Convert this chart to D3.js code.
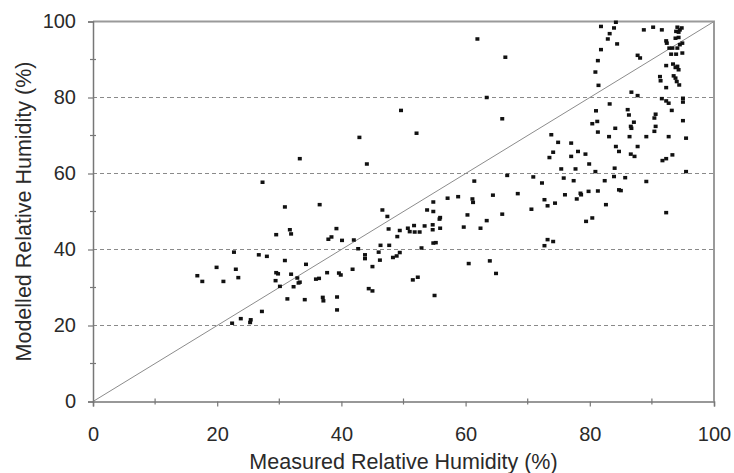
<!DOCTYPE html>
<html>
<head>
<meta charset="utf-8">
<script src="https://cdn.jsdelivr.net/npm/d3@7"></script>
<style>
  html, body { margin: 0; padding: 0; background: #fff; }
  svg { display: block; }
  text { font-family: Arial, "Liberation Sans", sans-serif; fill: #2a2a2a; }
</style>
</head>
<body>
<svg id="chart" width="734" height="473"></svg>
<script>
// Measured vs modelled relative humidity (%), one entry per observation
const measured = [
  27.3,30.9,29.5,31.7,31.9,22.7,26.7,28.0,30.9,19.9,23.0,16.8,17.6,21.0,23.4,29.5,29.8,31.9,29.4,30.1,
  32.3,32.9,33.1,31.3,27.2,23.8,22.4,25.4,25.3,
  36.5,46.6,47.4,39.2,37.9,38.4,40.1,42.0,47.6,49.4,49.0,50.7,46.3,47.7,42.7,46.0,43.8,43.8,46.2,48.3,48.9,
  49.4,34.3,45.0,41.8,37.7,39.6,39.9,35.9,36.4,33.3,44.4,45.0,34.1,37.0,37.1,39.3,39.3,
  61.4,66.7,68.4,64.4,57.1,58.8,61.1,61.2,54.8,53.8,54.8,55.9,60.3,65.9,63.4,55.9,55.8,54.7,54.7,53.4,
  51.7,51.0,51.8,52.6,59.7,62.4,54.8,55.2,52.9,60.5,63.9,64.9,51.5,52.3,55.0,
  61.9,66.4,63.4,65.9,52.1,49.6,42.9,44.1,33.3,
  81.8,83.9,84.2,83.2,82.9,84.4,81.8,81.3,80.9,81.4,83.2,81.0,80.4,81.2,81.3,84.1,83.1,73.8,74.9,77.0,
  74.1,78.1,77.0,79.3,73.5,79.9,75.4,77.7,80.9,84.2,84.7,84.0,
  70.9,75.8,77.4,72.3,76.0,78.5,78.6,79.8,81.3,82.4,83.9,84.7,77.9,72.7,73.2,74.4,70.6,82.6,79.4,80.4,
  73.2,74.1,72.7,
  85.7,89.1,85.0,92.3,
  88.7,90.2,91.6,94.1,94.5,94.3,93.9,94.8,94.3,93.8,92.3,92.4,94.9,94.5,94.1,93.3,92.8,94.9,93.1,93.9,
  87.7,88.1,92.3,93.4,93.8,94.3,94.1,93.5,93.8,91.3,91.4,94.0,94.4,92.3,86.7,87.7,91.6,92.3,92.7,95.0,
  95.0,93.2,86.1,86.3,90.6,90.4,87.1,86.6,86.7,95.0,90.6,90.4,86.4,89.1,92.7,95.5,87.7,86.6,87.2,93.3,
  92.3,91.7,95.5
];
const modelled = [
  57.7,51.2,43.9,45.2,44.1,39.3,38.6,38.2,37.1,35.3,34.8,33.1,31.6,31.6,32.6,33.9,33.6,33.5,31.8,30.3,
  30.2,32.5,31.2,27.0,23.7,21.8,20.6,21.5,20.8,
  51.8,50.4,48.7,45.5,42.7,43.3,42.4,42.5,45.4,45.0,43.4,45.6,41.1,41.1,40.2,39.3,38.6,37.6,37.2,37.9,38.3,
  39.2,36.1,35.5,34.8,33.9,33.8,33.3,32.2,32.4,31.4,29.7,29.1,26.8,27.4,26.5,27.5,24.1,
  58.0,59.5,54.7,54.3,53.5,53.9,53.3,52.4,52.5,50.4,50.0,48.4,49.1,49.3,47.6,45.6,48.0,46.5,45.2,46.2,
  46.3,44.7,44.6,44.6,45.9,45.6,41.7,41.8,40.4,36.3,37.0,33.7,32.0,32.7,27.9,
  95.4,90.6,80.0,74.4,70.6,76.6,69.5,62.5,63.9,
  98.7,98.3,99.8,96.8,95.4,94.1,92.6,89.7,86.7,83.2,78.3,76.5,73.1,73.7,70.9,71.9,69.7,70.2,68.2,68.0,
  65.6,65.8,64.5,65.1,64.2,62.5,61.2,61.2,60.5,67.1,65.8,61.4,
  59.1,58.8,58.1,57.5,54.4,54.8,54.4,55.3,55.4,58.1,59.2,55.7,53.3,53.1,51.5,52.2,50.6,51.8,47.4,48.3,
  42.6,42.1,41.0,
  58.9,57.9,55.5,49.7,
  97.8,98.5,97.8,98.5,97.8,97.2,97.4,98.3,95.8,95.6,94.9,94.3,94.3,93.9,93.0,93.0,93.0,91.7,91.4,91.4,
  91.1,90.4,88.4,88.8,87.9,87.3,88.2,85.7,85.1,85.5,84.4,84.2,83.3,82.6,81.4,80.5,79.7,79.1,78.5,79.8,
  78.8,76.6,76.8,75.4,75.6,74.6,73.5,72.4,71.9,73.9,72.4,71.1,69.7,69.7,69.7,69.3,67.1,65.1,64.5,64.9,
  63.9,63.4,60.5
];
const xTicks = [0, 20, 40, 60, 80, 100];
const yTicks = [0, 20, 40, 60, 80, 100];
const minorTicks = [10, 30, 50, 70, 90];
const gridValues = [20, 40, 60, 80];
const oneToOne = [0, 100];

const svg = d3.select("#chart");
const margin = { left: 93, right: 20, top: 21.5, bottom: 71.5 };
const W = 734, H = 473;
const x = d3.scaleLinear().domain([0, 100]).range([margin.left, W - margin.right]);
const y = d3.scaleLinear().domain([0, 100]).range([H - margin.bottom, margin.top]);
const TICK_FONT = "20px";
const TITLE_FONT = "21.5px";

// dashed horizontal gridlines
svg.append("g").selectAll("line").data(gridValues).join("line")
  .attr("x1", x(0)).attr("x2", x(100))
  .attr("y1", d => y(d)).attr("y2", d => y(d))
  .attr("stroke", "#8a8a8a").attr("stroke-width", 1)
  .attr("stroke-dasharray", "4,3");

// top and right frame
svg.append("path")
  .attr("d", `M${x(0)},${y(100)}H${x(100)}V${y(0)}`)
  .attr("fill", "none").attr("stroke", "#9a9a9a").attr("stroke-width", 2);

// 1:1 reference line
svg.append("line")
  .attr("x1", x(oneToOne[0])).attr("y1", y(oneToOne[0]))
  .attr("x2", x(oneToOne[1])).attr("y2", y(oneToOne[1]))
  .attr("stroke", "#8c8c8c").attr("stroke-width", 1);

// axes
const xAxis = d3.axisBottom(x).tickValues(xTicks).tickSize(5).tickPadding(20);
const yAxis = d3.axisLeft(y).tickValues(yTicks).tickSize(5).tickPadding(12);

const gx = svg.append("g").attr("transform", `translate(0,${y(0)})`).call(xAxis);
const gy = svg.append("g").attr("transform", `translate(${x(0)},0)`).call(yAxis);
[gx, gy].forEach(g => {
  g.select(".domain").attr("stroke", "#777").attr("stroke-width", 1.5);
  g.selectAll(".tick line").attr("stroke", "#777").attr("stroke-width", 1.2);
  g.selectAll(".tick text")
    .style("font-family", "Arial, 'Liberation Sans', sans-serif")
    .style("font-size", TICK_FONT).attr("fill", "#2a2a2a");
});

// minor ticks crossing the axes
svg.append("g").selectAll("line").data(minorTicks).join("line")
  .attr("x1", d => x(d)).attr("x2", d => x(d))
  .attr("y1", y(0) - 3).attr("y2", y(0) + 3)
  .attr("stroke", "#777").attr("stroke-width", 1.2);
svg.append("g").selectAll("line").data(minorTicks).join("line")
  .attr("y1", d => y(d)).attr("y2", d => y(d))
  .attr("x1", x(0) - 3).attr("x2", x(0) + 3)
  .attr("stroke", "#777").attr("stroke-width", 1.2);

// observations
const pts = measured.map((m, i) => ({ m, p: modelled[i] }));
svg.append("g").selectAll("rect").data(pts).join("rect")
  .attr("x", d => x(d.m) - 2).attr("y", d => y(d.p) - 1.75)
  .attr("width", 4).attr("height", 3.5)
  .attr("fill", "#111");

// axis titles
svg.append("text")
  .attr("x", (x(0) + x(100)) / 2).attr("y", 468.5)
  .attr("text-anchor", "middle")
  .style("font-size", TITLE_FONT)
  .text("Measured Relative Humidity (%)");
svg.append("text")
  .attr("transform", `translate(31,${(y(0) + y(100)) / 2}) rotate(-90)`)
  .attr("text-anchor", "middle")
  .style("font-size", TITLE_FONT)
  .text("Modelled Relative Humidity (%)");
</script>
</body>
</html>
